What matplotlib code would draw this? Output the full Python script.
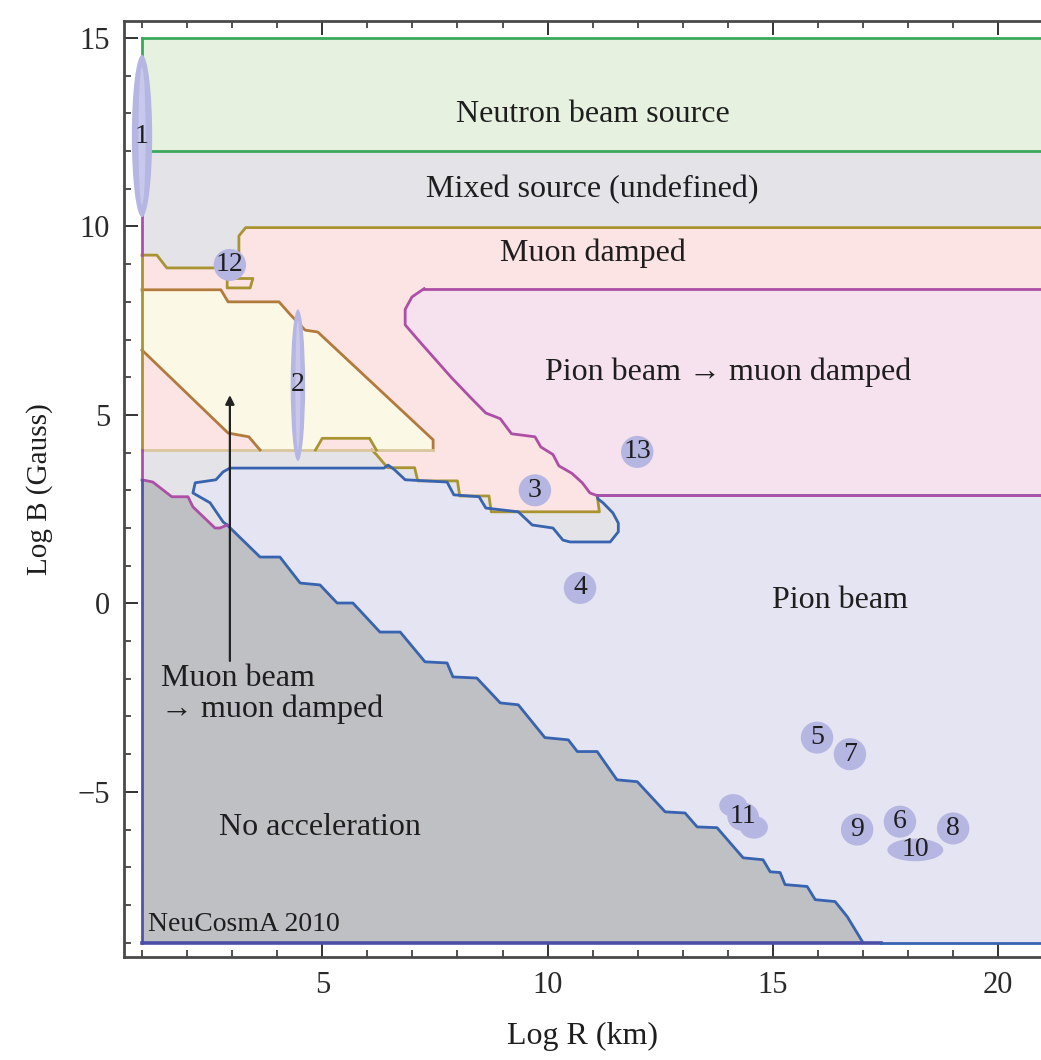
import matplotlib.pyplot as plt
from matplotlib.patches import Ellipse
from matplotlib.ticker import MultipleLocator

plt.rcParams['font.family'] = ['Liberation Serif', 'DejaVu Serif']

# ---- region boundaries in (Log R [km], Log B [Gauss]) ----
r_max, b_min = 21.2, -9.0

mixed_r = [1, r_max, r_max, 1]
mixed_b = [b_min, b_min, 12, 12]

neutron_r = [1, r_max, r_max, 1]
neutron_b = [12, 12, 15, 15]

muon_damped_r = [1, 1.33, 1.55, 3.15, 3.15, 3.3, r_max, r_max, 11.1, 11.15, 8.75, 8.7, 8.05, 8.0,
                 7.12, 7.05, 6.45, 6.2, 6.1, 1]
muon_damped_b = [9.24, 9.24, 8.9, 8.9, 9.75, 9.97, 9.97, 2.86, 2.86, 2.43, 2.43, 2.85, 2.85, 3.25,
                 3.25, 3.6, 3.6, 3.95, 4.07, 4.07]
muon_nub_r = [2.89, 3.46, 3.4, 2.89, 2.89]
muon_nub_b = [8.62, 8.62, 8.37, 8.37, 8.62]

pion_muon_r = [7.26, r_max, r_max, 11.1, 10.94, 10.77, 10.54, 10.25, 10.12, 9.85, 9.72, 9.2, 8.95,
               8.63, 8.3, 7.86, 7.12, 6.84, 6.84, 6.99, 7.26]
pion_muon_b = [8.35, 8.35, 2.86, 2.86, 2.93, 3.2, 3.45, 3.65, 3.95, 4.15, 4.42, 4.5, 4.9,
               5.05, 5.45, 6.0, 7.0, 7.39, 7.8, 8.13, 8.35]

muon_beam_r = [1, 2.75, 2.91, 4.04, 4.3, 4.62, 4.9, 7.46, 7.46, 6.2, 6.05, 5.0, 4.85, 3.62, 3.37,
               2.91, 1]
muon_beam_b = [8.32, 8.32, 8.0, 8.0, 7.65, 7.25, 7.2, 4.34, 4.07, 4.07, 4.38, 4.38, 4.07, 4.07,
               4.42, 4.52, 6.72]

# no-acceleration edge (stepped), shared by pion beam and no acceleration
edge_r = [2.89, 3.62, 4.06, 4.51, 4.95, 5.33, 5.68, 6.28, 6.73, 7.28, 7.77, 7.9, 8.43, 8.95, 9.35,
          9.94, 10.46, 10.66, 11.1, 11.54, 11.99, 12.61, 13.05, 13.32, 13.76, 14.34, 14.78, 14.94,
          15.16, 15.27, 15.76, 15.94, 16.38, 16.65, 17.0]
edge_b = [2.08, 1.23, 1.23, 0.54, 0.49, 0.01, 0.01, -0.76, -0.76, -1.55, -1.58, -1.95, -1.98,
          -2.64, -2.69, -3.56, -3.62, -3.93, -3.93, -4.68, -4.73, -5.53, -5.56, -5.93, -5.95,
          -6.75, -6.8, -7.12, -7.14, -7.46, -7.51, -7.86, -7.91, -8.31, -9.0]

pion_top_r = [2.89, 2.8, 2.51, 2.13, 2.18, 2.64, 2.8, 2.95, 6.37, 6.46, 6.6, 6.84, 7.77, 7.92, 8.48,
              8.63, 9.35, 9.66, 10.12, 10.34, 10.5, 11.39, 11.57, 11.57, 11.45, 11.23, 11.12, 11.1,
              r_max]
pion_top_b = [2.08, 2.16, 2.67, 2.93, 3.2, 3.28, 3.49, 3.59, 3.59, 3.67, 3.55, 3.28, 3.22, 2.88,
              2.83, 2.53, 2.43, 2.08, 2.0, 1.68, 1.63, 1.63, 1.9, 2.13, 2.4, 2.67, 2.77, 2.86, 2.86]

no_acc_top_r = [1, 1.24, 1.66, 2.02, 2.13, 2.62, 2.73, 2.89]
no_acc_top_b = [3.28, 3.22, 2.83, 2.83, 2.56, 2.0, 2.0, 2.08]

# ---- sources ----
src_labels = ['1', '2', '3', '4', '5', '6', '7', '8', '9', '10', '11', '12', '13']
src_logR = [1.0, 4.46, 9.72, 10.72, 15.98, 17.82, 16.71, 19.0, 16.87, 18.16, 14.34, 2.95, 11.99]
src_logB = [12.4, 5.8, 3.0, 0.41, -3.56, -5.79, -4.0, -5.97, -6.0, -6.54, -5.66, 8.98, 4.02]
src_logB_lo = {'1': 10.25, '2': 3.78}
src_logB_hi = {'1': 14.55, '2': 7.8}

# region colours
c_mixed = '#e4e4e8'
c_neutron, l_neutron = '#e6f1df', '#3ca85c'
c_muon_d, l_olive = '#fbe4e3', '#a99432'
c_pimu, l_magenta = '#f6e2ee', '#ad4fa6'
c_mubeam, l_brown = '#fbf9e6', '#b27a3c'
c_pion, l_blue = '#e4e4f2', '#3763b0'
c_noacc = '#bfc0c4'
l_tan = '#d9c69c'
c_blob = '#b6b6e3'
txt = '#1e1e1e'

fig = plt.figure(figsize=(10.41, 10.60), dpi=100)
ax = fig.add_axes([0.1191, 0.0972, 0.8809, 0.8833])
ax.set_xlim(0.6, 20.95)
ax.set_ylim(-9.38, 15.46)

lw = 2.0
ax.fill(mixed_r, mixed_b, color=c_mixed, lw=0, zorder=1)
ax.fill(neutron_r, neutron_b, color=c_neutron, lw=0, zorder=1)
ax.fill(muon_damped_r, muon_damped_b, color=c_muon_d, lw=0, zorder=2)
ax.fill(muon_nub_r, muon_nub_b, color=c_muon_d, lw=0, zorder=2)
ax.fill(pion_muon_r, pion_muon_b, color=c_pimu, lw=0, zorder=3)
ax.fill(muon_beam_r, muon_beam_b, color=c_mubeam, lw=0, zorder=3)
ax.fill(pion_top_r + [r_max, r_max] + edge_r[::-1],
        pion_top_b + [2.86, b_min] + edge_b[::-1], color=c_pion, lw=0, zorder=3)
ax.fill(no_acc_top_r + edge_r[1:] + [1],
        no_acc_top_b + edge_b[1:] + [b_min], color=c_noacc, lw=0, zorder=3)

# boundaries
ax.plot([1, r_max], [15, 15], color=l_neutron, lw=lw, zorder=5)
ax.plot([1, r_max], [12, 12], color=l_neutron, lw=lw, zorder=5)
ax.plot([1, 1], [12, 15], color=l_neutron, lw=lw, zorder=5)
ax.plot(muon_damped_r[:7], muon_damped_b[:7], color=l_olive, lw=lw, zorder=5)
ax.plot(muon_damped_r[8:19], muon_damped_b[8:19], color=l_olive, lw=lw, zorder=5)
ax.plot(muon_nub_r, muon_nub_b, color=l_olive, lw=lw, zorder=5)
ax.plot(pion_top_r, pion_top_b, color=l_blue, lw=lw, zorder=5)
ax.plot(edge_r, edge_b, color=l_blue, lw=lw, zorder=5)
ax.plot([pion_muon_r[-1]] + pion_muon_r[:2], [pion_muon_b[-1]] + pion_muon_b[:2],
        color=l_magenta, lw=lw, zorder=6)
ax.plot(pion_muon_r[2:], pion_muon_b[2:], color=l_magenta, lw=lw, zorder=6)
ax.plot(muon_beam_r[:9], muon_beam_b[:9], color=l_brown, lw=lw, zorder=5)
ax.plot(muon_beam_r[8:10] + [1], [4.07, 4.07, 4.07], color=l_tan, lw=lw, zorder=5)
ax.plot(muon_beam_r[9:13], muon_beam_b[9:13], color=l_olive, lw=lw, zorder=5)
ax.plot(muon_beam_r[13:], muon_beam_b[13:], color=l_brown, lw=lw, zorder=5)
ax.plot(no_acc_top_r, no_acc_top_b, color=l_magenta, lw=lw, zorder=5)
ax.plot([1, 1], [4.07, 9.24], color=l_olive, lw=lw, zorder=5)
ax.plot([1, 1], [9.24, 10.4], color=l_magenta, lw=lw, zorder=5)
ax.plot([1, 1], [3.28, 4.07], color=l_magenta, lw=lw, zorder=5)
ax.plot([1, 1], [b_min, 3.28], color='#5054a8', lw=lw, zorder=5)
ax.plot([1, 17.4], [b_min, b_min], color='#4a4ea6', lw=lw + 0.6, zorder=5)
ax.plot([17.4, r_max], [b_min, b_min], color=l_blue, lw=lw, zorder=5)

# sources
blob_w, blob_h = 0.72, 0.85
for lab, r, b in zip(src_labels, src_logR, src_logB):
    if lab in src_logB_lo:
        lo, hi = src_logB_lo[lab], src_logB_hi[lab]
        w = 0.45 if lab == '1' else 0.32
        ax.add_patch(Ellipse((r, (lo + hi) / 2), w, hi - lo, color=c_blob, lw=0, zorder=7))
        ax.add_patch(Ellipse((r, (lo + hi) / 2), w * 0.35, (hi - lo) * 0.85,
                             color='#c8c8ec', lw=0, zorder=7))
    elif lab == '10':
        ax.add_patch(Ellipse((r, b), 1.24, 0.6, color=c_blob, lw=0, zorder=7))
    elif lab == '11':
        ax.add_patch(Ellipse((r - 0.22, b + 0.3), 0.62, 0.6, color=c_blob, lw=0, zorder=7))
        ax.add_patch(Ellipse((r + 0.24, b - 0.28), 0.62, 0.6, color=c_blob, lw=0, zorder=7))
        ax.add_patch(Ellipse((r, b), 0.7, 0.75, color=c_blob, lw=0, zorder=7))
    else:
        ax.add_patch(Ellipse((r, b), blob_w, blob_h, color=c_blob, lw=0, zorder=7))
    ax.text(r, b, lab, fontsize=20, ha='center', va='center', color=txt, zorder=8)

# region names
ax.text(11.0, 12.96, 'Neutron beam source', fontsize=23, ha='center', va='center', color=txt, zorder=9)
ax.text(11.0, 10.97, 'Mixed source (undefined)', fontsize=23, ha='center', va='center', color=txt, zorder=9)
ax.text(11.0, 9.3, 'Muon damped', fontsize=23, ha='center', va='center', color=txt, zorder=9)
ax.text(14.0, 6.13, 'Pion beam \u2192 muon damped', fontsize=23, ha='center', va='center',
        color=txt, zorder=9)
ax.text(16.5, 0.09, 'Pion beam', fontsize=23, ha='center', va='center', color=txt, zorder=9)
ax.text(4.95, -5.95, 'No acceleration', fontsize=23, ha='center', va='center', color=txt, zorder=9)
ax.text(1.42, -1.62, 'Muon beam\n\u2192 muon damped', fontsize=23, ha='left', va='top',
        color=txt, linespacing=1.05, zorder=9)
ax.text(1.13, -8.53, 'NeuCosmA 2010', fontsize=20, ha='left', va='center', color=txt, zorder=9)
ax.annotate('', xy=(2.95, 5.6), xytext=(2.95, -1.6),
            arrowprops=dict(arrowstyle='-|>', color='#222222', lw=1.6, mutation_scale=13),
            zorder=9)

# axes
ax.set_xlabel('Log R (km)', fontsize=23, color=txt, labelpad=16)
ax.set_ylabel('Log B (Gauss)', fontsize=21, color=txt, labelpad=18)
ax.xaxis.set_major_locator(MultipleLocator(5))
ax.xaxis.set_minor_locator(MultipleLocator(1))
ax.yaxis.set_major_locator(MultipleLocator(5))
ax.yaxis.set_minor_locator(MultipleLocator(1))
ax.tick_params(which='both', direction='in', top=True, right=False, color='#333333',
               labelsize=22, labelcolor='#2a2a2a')
ax.tick_params(which='major', length=10, width=1.4, pad=10)
ax.tick_params(which='minor', length=5, width=1.2)
ax.set_yticks([-5, 0, 5, 10, 15])
ax.set_yticklabels(['\u22125', '0', '5', '10', '15'])
for side in ['left', 'bottom', 'top']:
    ax.spines[side].set_color('#4a4a4a')
    ax.spines[side].set_linewidth(2.0)
ax.spines['right'].set_visible(False)

fig.savefig('out.png', dpi=100)
